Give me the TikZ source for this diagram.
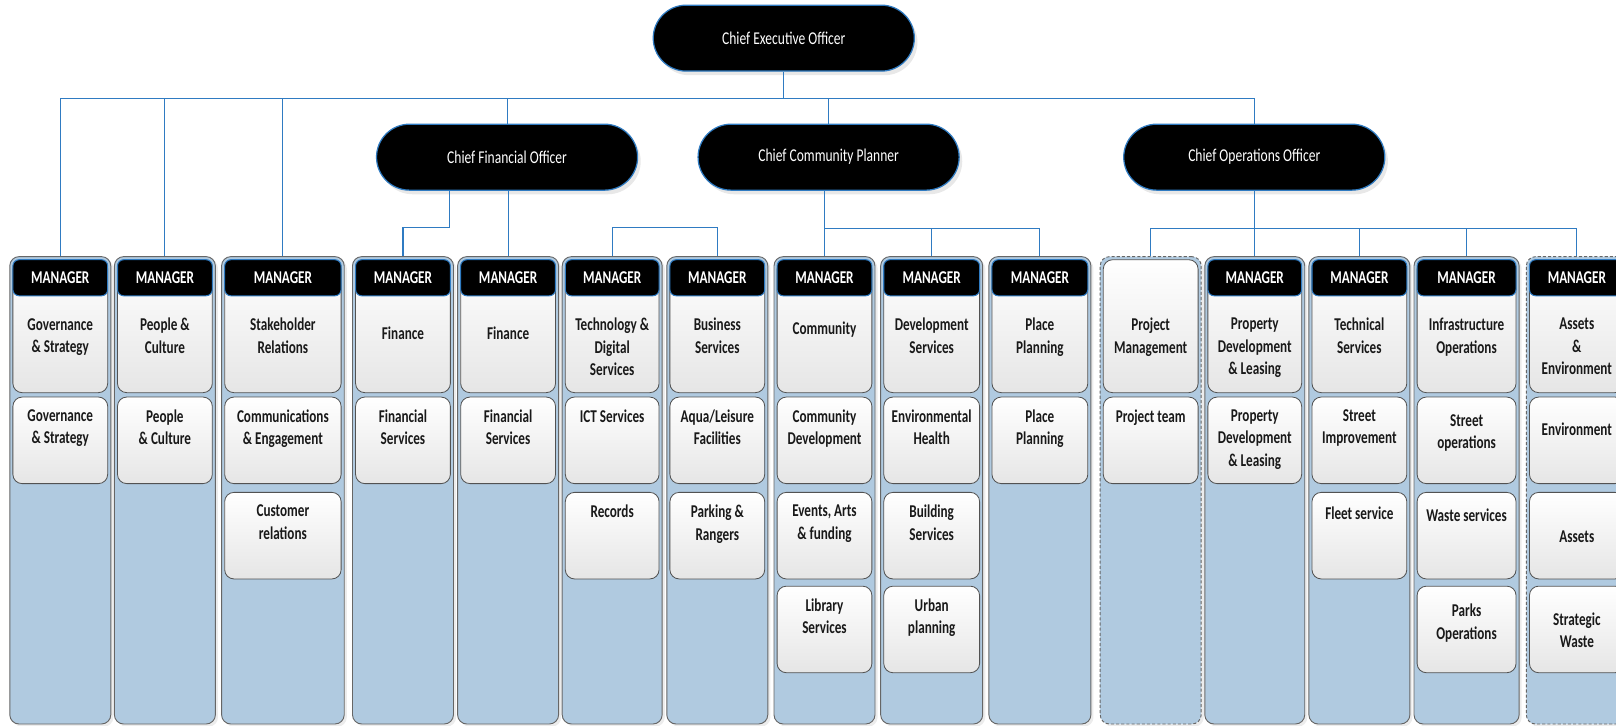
\documentclass[tikz,border=0pt]{standalone}
\usepackage{fontspec}
\setmainfont{Carlito}[FakeStretch=0.75, BoldFeatures={FakeStretch=0.73}]
\usepackage{tikz}
\usetikzlibrary{shapes.misc,shadows}
\definecolor{linkblue}{HTML}{2F7BC2}
\definecolor{colfill}{HTML}{B0CAE0}
\definecolor{colline}{HTML}{666666}

\begin{document}
\begin{tikzpicture}[
    x=1pt, y=-1pt,
    chief/.style={rounded rectangle, draw=linkblue, line width=1.2pt, fill=black,
                  text=white, minimum width=260pt, minimum height=64pt,
                  font=\fontsize{17.5}{21.7}\selectfont,
                  drop shadow={shadow xshift=3pt, shadow yshift=-4pt, fill=black!18}},
    col/.style={rectangle, draw=colline, line width=0.9pt, rounded corners=9pt,
                fill=colfill, minimum width=#1, minimum height=453.5pt,
                drop shadow={shadow xshift=2.5pt, shadow yshift=-2.5pt, fill=black!15}},
    col/.default=98pt,
    vacant/.style={col=#1, dashed, dash pattern=on 3pt off 2pt},
    vacant/.default=98pt,
    head/.style={rectangle, draw=linkblue, line width=1pt, rounded corners=6pt,
                 fill=black, text=white, minimum width=#1, minimum height=35pt,
                 inner sep=0pt, font=\fontsize{17.5}{21.7}\selectfont\bfseries},
    head/.default=92pt,
    unit/.style={rectangle, draw=colline!80!black, line width=0.8pt, rounded corners=9pt,
                 top color=white, bottom color=black!10, minimum width=#1,
                 minimum height=84pt},
    unit/.default=92pt,
    first/.style={unit=#1, minimum height=129pt},
    first/.default=92pt,
    utext/.style={anchor=north, align=center, inner sep=0pt, text=black!90,
                  font=\fontsize{17.5}{21.7}\selectfont\bfseries, yshift=#1},
    utext/.default=-12.5pt,
    htext/.style={utext=#1},
    htext/.default=-57pt,
    link/.style={draw=linkblue, line width=1.1pt}
]
\useasboundingbox (0,0) rectangle (1568,704);

\node[chief] (ceo) at (760.5,37) {Chief Executive Officer};
\node[chief] (cfo) at (492,152.5) {Chief Financial Officer};
\node[chief] (ccp) at (804,152.5) {Chief Community Planner};
\node[chief] (coo) at (1217,152.5) {Chief Operations Officer};

\node[col] (gov) at (58.5,475.75) {};
\node[col] (ppl) at (160,475.75) {};
\node[col=119pt] (stake) at (274.5,475.75) {};
\node[col] (fin) at (391,475.75) {};
\node[col] (finb) at (493,475.75) {};
\node[col=97pt] (tech) at (594,475.75) {};
\node[col] (bus) at (696,475.75) {};
\node[col] (comm) at (800,475.75) {};
\node[col=99pt] (dev) at (904,475.75) {};
\node[col=99pt] (place) at (1009,475.75) {};
\node[vacant] (proj) at (1116.5,475.75) {};
\node[col=97pt] (prop) at (1217.5,475.75) {};
\node[col] (techs) at (1319,475.75) {};
\node[col=102pt] (infra) at (1423,475.75) {};
\node[vacant] (assets) at (1530,475.75) {};

\node[first, label={[htext]north:Governance\\\& Strategy}] (gov1) at (58.5,316.5) {};
\node[head] (govh) at (58.5,269.5) {MANAGER};
\node[unit, label={[utext]north:Governance\\\& Strategy}] (gov2) at (58.5,427.25) {};

\node[first, label={[htext]north:People \&\\Culture}] (ppl1) at (160,316.5) {};
\node[head] (pplh) at (160,269.5) {MANAGER};
\node[unit, label={[utext]north:People\\\& Culture}] (ppl2) at (160,427.25) {};

\node[first=113pt, label={[htext]north:Stakeholder\\Relations}] (stake1) at (274.5,316.5) {};
\node[head=113pt] (stakeh) at (274.5,269.5) {MANAGER};
\node[unit=113pt, label={[utext]north:Communications\\\& Engagement}] (stake2) at (274.5,427.25) {};
\node[unit=113pt, label={[utext]north:Customer\\relations}] (stake3) at (274.5,519.75) {};

\node[first, label={[htext=-65pt]north:Finance}] (fin1) at (391,316.5) {};
\node[head] (finh) at (391,269.5) {MANAGER};
\node[unit, label={[utext]north:Financial\\Services}] (fin2) at (391,427.25) {};

\node[first, label={[htext=-65pt]north:Finance}] (finb1) at (493,316.5) {};
\node[head] (finbh) at (493,269.5) {MANAGER};
\node[unit, label={[utext]north:Financial\\Services}] (finb2) at (493,427.25) {};

\node[first=91pt, label={[htext]north:Technology \&\\Digital\\Services}] (tech1) at (594,316.5) {};
\node[head=91pt] (techh) at (594,269.5) {MANAGER};
\node[unit=91pt, label={[utext]north:ICT Services}] (tech2) at (594,427.25) {};
\node[unit=91pt, label={[utext]north:Records}] (tech3) at (594,519.75) {};

\node[first, label={[htext]north:Business\\Services}] (bus1) at (696,316.5) {};
\node[head] (bush) at (696,269.5) {MANAGER};
\node[unit, label={[utext]north:Aqua/Leisure\\Facilities}] (bus2) at (696,427.25) {};
\node[unit, label={[utext]north:Parking \&\\Rangers}] (bus3) at (696,519.75) {};

\node[first, label={[htext=-60pt]north:Community}] (comm1) at (800,316.5) {};
\node[head] (commh) at (800,269.5) {MANAGER};
\node[unit, label={[utext]north:Community\\Development}] (comm2) at (800,427.25) {};
\node[unit, label={[utext]north:{Events, Arts\\\& funding}}] (comm3) at (800,519.75) {};
\node[unit, label={[utext]north:Library\\Services}] (comm4) at (800,610.75) {};

\node[first=93pt, label={[htext]north:Development\\Services}] (dev1) at (904,316.5) {};
\node[head=93pt] (devh) at (904,269.5) {MANAGER};
\node[unit=93pt, label={[utext]north:Environmental\\Health}] (dev2) at (904,427.25) {};
\node[unit=93pt, label={[utext]north:Building\\Services}] (dev3) at (904,519.75) {};
\node[unit=93pt, label={[utext]north:Urban\\planning}] (dev4) at (904,610.75) {};

\node[first=93pt, label={[htext]north:Place\\Planning}] (place1) at (1009,316.5) {};
\node[head=93pt] (placeh) at (1009,269.5) {MANAGER};
\node[unit=93pt, label={[utext]north:Place\\Planning}] (place2) at (1009,427.25) {};

\node[first, label={[htext]north:Project\\Management}] (proj1) at (1116.5,316.5) {};
\node[unit, label={[utext]north:Project team}] (proj2) at (1116.5,427.25) {};

\node[first=91pt, label={[htext]north:Property\\Development\\\& Leasing}] (prop1) at (1217.5,316.5) {};
\node[head=91pt] (proph) at (1217.5,269.5) {MANAGER};
\node[unit=91pt, label={[utext]north:Property\\Development\\\& Leasing}] (prop2) at (1217.5,427.25) {};

\node[first, label={[htext]north:Technical\\Services}] (techs1) at (1319,316.5) {};
\node[head] (techsh) at (1319,269.5) {MANAGER};
\node[unit, label={[utext]north:Street\\Improvement}] (techs2) at (1319,427.25) {};
\node[unit, label={[utext=-14pt]north:Fleet service}] (techs3) at (1319,519.75) {};

\node[first=96pt, label={[htext]north:Infrastructure\\Operations}] (infra1) at (1423,316.5) {};
\node[head=96pt] (infrah) at (1423,269.5) {MANAGER};
\node[unit=96pt, label={[utext=-17pt]north:Street\\operations}] (infra2) at (1423,427.25) {};
\node[unit=96pt, label={[utext=-16.5pt]north:Waste services}] (infra3) at (1423,519.75) {};
\node[unit=96pt, label={[utext=-17.75pt]north:Parks\\Operations}] (infra4) at (1423,610.75) {};

\node[first, label={[htext]north:Assets\\\&\\Environment}] (assets1) at (1530,316.5) {};
\node[head] (assetsh) at (1530,269.5) {MANAGER};
\node[unit, label={[utext=-25pt]north:Environment}] (assets2) at (1530,427.25) {};
\node[unit, label={[utext=-37.5pt]north:Assets}] (assets3) at (1530,519.75) {};
\node[unit, label={[utext=-26pt]north:Strategic\\Waste}] (assets4) at (1530,610.75) {};

\coordinate (ceobus) at (760.5,95.5);
\coordinate (cfobend) at (436,221);
\coordinate (ccpbus) at (800,221.5);
\coordinate (coobus) at (1217.5,222);

\draw[link] (ceo.south) -- (ceobus);
\draw[link] (gov.north) |- (ceobus) -| (coo.north);
\draw[link] (ppl.north) -- (ppl.north |- ceobus);
\draw[link] (stake.north) -- (stake.north |- ceobus);
\draw[link] (cfo.north) -- (cfo.north |- ceobus);
\draw[link] (ccp.north) -- (ccp.north |- ceobus);

\draw[link] (cfo.south -| cfobend) -- (cfobend) -| (fin.north);
\draw[link] (cfo.south -| finb.north) -- (finb.north);
\draw[link] (tech.north) -- ++(0,-27.5) -| (bus.north);

\draw[link] (ccp.south -| comm.north) -- (comm.north);
\draw[link] (ccpbus) -| (place.north);
\draw[link] (dev.north) -- (dev.north |- ccpbus);

\draw[link] (coo.south -| prop.north) -- (prop.north);
\draw[link] (proj.north) |- (coobus) -| (assets.north);
\draw[link] (techs.north) -- (techs.north |- coobus);
\draw[link] (infra.north) -- (infra.north |- coobus);
\end{tikzpicture}
\end{document}
